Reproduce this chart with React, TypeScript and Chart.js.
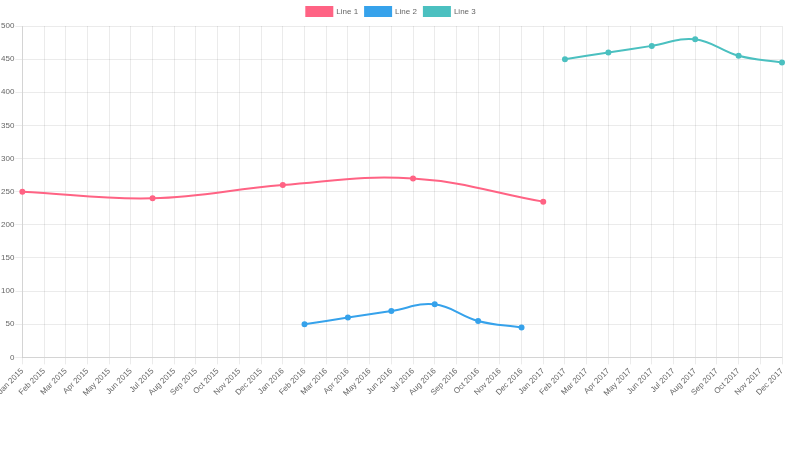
import React, { useEffect, useRef } from "react";
import { Chart, registerables } from "chart.js";

Chart.register(...registerables);

const months = ["Jan", "Feb", "Mar", "Apr", "May", "Jun", "Jul", "Aug", "Sep", "Oct", "Nov", "Dec"];
const years = [2015, 2016, 2017];
const labels: string[] = [];
years.forEach((y) => months.forEach((m) => labels.push(`${m} ${y}`)));

const line1Points: [string, number][] = [
  ["Jan 2015", 250],
  ["Jul 2015", 240],
  ["Jan 2016", 260],
  ["Jul 2016", 270],
  ["Jan 2017", 235],
];
const line2Points: [string, number][] = [
  ["Feb 2016", 50],
  ["Apr 2016", 60],
  ["Jun 2016", 70],
  ["Aug 2016", 80],
  ["Oct 2016", 55],
  ["Dec 2016", 45],
];
const line3Points: [string, number][] = [
  ["Feb 2017", 450],
  ["Apr 2017", 460],
  ["Jun 2017", 470],
  ["Aug 2017", 480],
  ["Oct 2017", 455],
  ["Dec 2017", 445],
];

function toSeries(points: [string, number][]): (number | null)[] {
  const map = new Map(points);
  return labels.map((l) => (map.has(l) ? (map.get(l) as number) : null));
}

export default function App() {
  const ref = useRef<HTMLCanvasElement | null>(null);
  useEffect(() => {
    if (!ref.current) return;
    Chart.defaults.font.family = "'Liberation Sans', Arial, sans-serif";
    Chart.defaults.color = "#666";
    const mk = (label: string, pts: [string, number][], color: string) => ({
      label,
      data: toSeries(pts),
      borderColor: color,
      backgroundColor: color,
      pointBackgroundColor: color,
      borderWidth: 2,
      pointRadius: 2,
      tension: 0.4,
      spanGaps: true,
      fill: false,
    });
    const chart = new Chart(ref.current, {
      type: "line",
      data: {
        labels,
        datasets: [
          mk("Line 1", line1Points, "rgb(255, 99, 132)"),
          mk("Line 2", line2Points, "rgb(54, 162, 235)"),
          mk("Line 3", line3Points, "rgb(75, 192, 192)"),
        ],
      },
      options: {
        animation: false,
        responsive: true,
        maintainAspectRatio: false,
        layout: { padding: { top: 0, right: 18, bottom: 0, left: 0 } },
        plugins: {
          legend: { labels: { boxWidth: 26, boxHeight: 9, padding: 7, font: { size: 8 } } },
          tooltip: { enabled: false },
        },
        scales: {
          x: {
            grid: { color: "rgba(0,0,0,0.08)", tickLength: 7 },
            ticks: { autoSkip: false, maxRotation: 45, minRotation: 45, padding: 2, font: { size: 8 } },
            afterFit: (scale: any) => {
              scale.paddingLeft = 0;
              scale.paddingRight = 0;
            },
          },
          y: {
            min: 0,
            max: 500,
            ticks: { stepSize: 50, padding: 1, font: { size: 8 } },
            grid: { color: "rgba(0,0,0,0.08)", tickLength: 7 },
            afterFit: (scale: any) => {
              scale.paddingTop = 0;
            },
          },
        },
      },
    });
    return () => chart.destroy();
  }, []);
  return (
    <div style={{ position: "absolute", left: 0, top: 0, width: 800, height: 400 }}>
      <canvas ref={ref} />
    </div>
  );
}
